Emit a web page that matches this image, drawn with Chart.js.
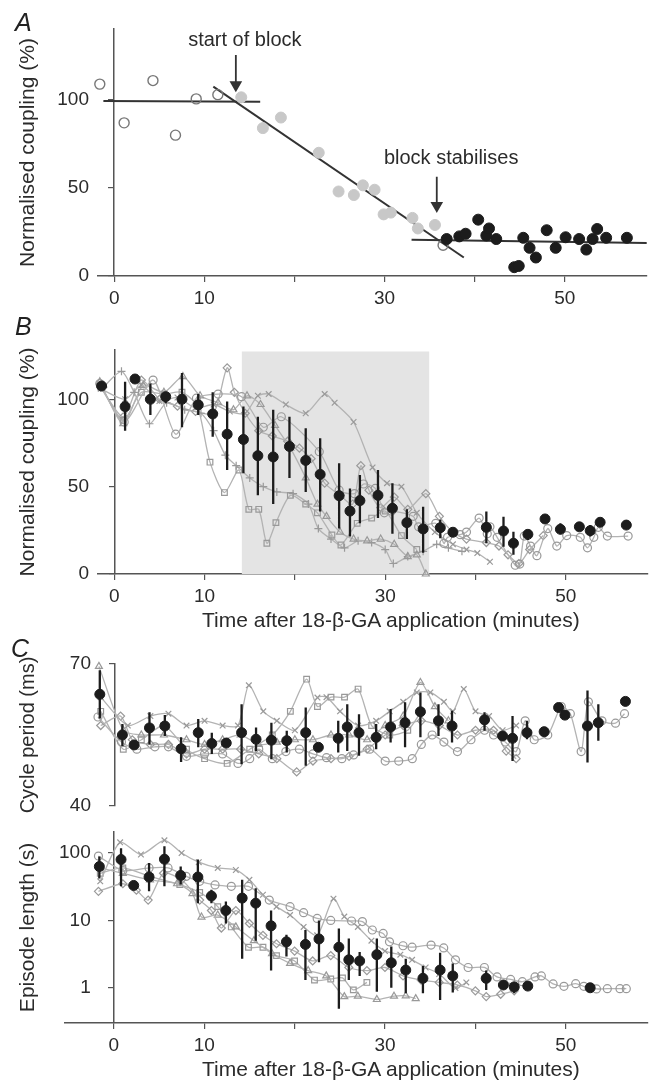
<!DOCTYPE html>
<html>
<head>
<meta charset="utf-8">
<script src="https://cdn.jsdelivr.net/npm/chart.js@4.4.1/dist/chart.umd.min.js"></script>
<style>
  body { margin: 0; background: #fff; }
  #page { position: relative; width: 654px; height: 1083px; overflow: hidden; background: #fff; }
  canvas { position: absolute; left: 0; }
  .letter { position: absolute; font: italic 25px "Liberation Sans", Arial, sans-serif; color: #222; line-height: 1; }
  .xtitle { position: absolute; left: 202px; font: 21px "Liberation Sans", Arial, sans-serif; color: #2b2b2b;
            line-height: 25px; white-space: nowrap; }
</style>
</head>
<body>
<div id="page">
  <canvas id="chartA" width="654" height="320" style="top:0"></canvas>
  <canvas id="chartB" width="654" height="320" style="top:320px"></canvas>
  <canvas id="chartC" width="654" height="185" style="top:640px"></canvas>
  <canvas id="chartD" width="654" height="258" style="top:825px"></canvas>
  <div class="letter" style="left:15px;top:10px">A</div>
  <div class="letter" style="left:15px;top:314px">B</div>
  <div class="letter" style="left:11px;top:636px">C</div>
  <div class="xtitle" id="titleB" style="top:607px"></div>
  <div class="xtitle" id="titleD" style="top:1056px"></div>
</div>
<script>
// shared time axis
const X_MAX = 59.1;
const xTicks = [0, 10, 20, 30, 40, 50];
const xLabels = [0, 10, 30, 50];
const xTitle = 'Time after 18-\u03B2-GA application (minutes)';

// ---- panel A: one experiment ----
const aOpen = [[-1.6, 109], [1.1, 87], [4.3, 111], [6.8, 80], [9.1, 100.6], [11.5, 103], [36.5, 17.5]];
const aBlock = [[14.1, 101.5], [16.5, 84], [18.5, 90], [22.7, 70], [24.9, 48], [26.6, 46], [27.6, 51.5],
  [28.9, 49], [29.9, 35], [30.7, 36], [33.1, 33], [33.7, 27], [35.6, 29]];
const aStable = [[36.9, 21], [38.3, 22.5], [39.0, 24], [40.4, 32], [41.3, 23], [41.6, 27], [42.4, 21],
  [44.4, 5], [44.9, 5.7], [45.4, 21.7], [46.1, 16], [46.8, 10.5], [48.0, 26], [49.0, 16], [50.1, 22],
  [51.6, 21], [52.4, 15], [53.1, 21], [53.6, 26.7], [54.6, 21.7], [56.9, 21.7]];
const fitBase = [[-1.2, 99.4], [16.2, 99]];
const fitBlock = [[11.0, 107.6], [38.8, 10.5]];
const fitStable = [[33.0, 20.6], [59.1, 18.7]];
const arrowStart = [[13.5, 125.6], [13.5, 108.5]];
const arrowStable = [[35.8, 56.4], [35.8, 40]];
const noteText = ['start of block', 'block stabilises'];
const noteT = [14.5, 37.4];
const noteV = [134, 66.5];

// ---- panel B: normalised coupling, all experiments ----
const bMeanT = [-1.4, 1.2, 2.3, 4.0, 5.7, 7.5, 9.3, 10.9, 12.5, 14.3, 15.9, 17.6, 19.4, 21.2, 22.8, 24.9, 26.1,
  27.2, 29.2, 30.8, 32.4, 34.2, 36.1, 37.5, 41.2, 43.1, 44.2, 45.8, 47.7, 49.4, 51.5, 52.7, 53.8, 56.7];
const bMeanV = [107.6, 95.8, 111.6, 100, 101.5, 100, 96.8, 91.6, 80, 77, 67.7, 67, 73, 65, 57, 44.8, 36,
  42, 45, 37.6, 29.4, 25.8, 26.5, 23.9, 26.7, 24.6, 17.6, 22.7, 31.5, 25.6, 27, 24.8, 29.6, 28];
const bMeanLo = [107.6, 82, 111.6, 91, 97.7, 84, 91, 78.6, 59.5, 57.6, 45, 40, 55, 47, 35.7, 26, 21.4,
  29, 32, 23, 20, 12.2, 20.4, 23.9, 17.6, 15.6, 11, 19.5, 31.5, 22.7, 27, 21.5, 29.6, 28];
const bMeanHi = [107.6, 110, 111.6, 109, 104, 115, 103, 104, 98.7, 95.8, 90, 94, 90, 83.4, 77.7, 63.4, 49,
  56.7, 59.5, 52, 37, 38.5, 31, 23.9, 35.7, 32.8, 24.2, 25, 31.5, 29, 27, 28, 29.6, 28];
const bBlockT = [14.1, 34.9];
const bBlockV = [127.3, 127.3];
const bSquare = [[-1.5, 107], [1.0, 88], [3.0, 104], [5.5, 103], [7.5, 104], [9.2, 96], [10.6, 64], [12.2, 46.6],
  [13.8, 59.5], [14.9, 37], [16.0, 37], [16.9, 17.6], [17.9, 29.4], [19.5, 45], [21.2, 40], [22.5, 35],
  [24.1, 22.3], [25.1, 16.6], [26.9, 29], [28.5, 32], [30.0, 36], [31.8, 22], [33.5, 14]];
const bTriangle = [[-1.6, 110], [1.0, 86], [3.2, 108], [5.5, 104], [7.6, 113], [9.5, 102], [11.5, 98], [13.2, 94],
  [14.7, 102], [16.2, 97], [17.8, 85], [19.5, 72], [21.2, 55], [22.5, 40], [23.5, 33], [25.0, 24], [26.5, 20],
  [28.0, 19], [29.5, 20], [31.0, 17], [32.5, 10], [33.5, 11], [34.5, 0]];
const bPlus = [[-1.2, 107], [0.8, 116], [2.2, 104], [3.9, 86], [5.8, 98], [7.8, 94], [9.6, 92], [11.0, 82],
  [12.3, 68], [13.5, 62], [15.0, 55], [16.5, 50], [18.0, 47], [19.8, 46], [21.5, 40], [22.6, 26], [24.0, 20],
  [25.5, 15], [27.0, 19], [28.5, 18], [30.0, 14], [30.9, 6], [32.5, 10], [34.2, 13], [35.7, 17], [37.0, 15], [38.5, 13]];
const bCross = [[-1.5, 106], [1.2, 100], [3.0, 108], [5.0, 99], [7.0, 101], [9.0, 95], [11.0, 97], [12.8, 93],
  [14.5, 92], [15.9, 102], [17.1, 103], [19.0, 97], [21.2, 92], [23.3, 103], [24.4, 98], [26.5, 87], [28.6, 61],
  [30.2, 52], [31.8, 50], [33.5, 35], [35.5, 24], [37.5, 17], [39.0, 14], [40.2, 12], [41.6, 7]];
const bDiamond = [[-1.5, 107], [1.0, 90], [3.0, 111], [5.0, 100], [7.0, 96], [9.0, 93], [11.0, 92], [12.5, 118],
  [13.3, 104], [14.5, 92], [16.0, 82], [17.5, 79], [19.2, 76], [20.5, 72], [21.8, 66], [23.3, 52], [25.0, 45],
  [26.4, 40], [27.3, 62], [28.2, 48], [29.5, 38], [31.0, 44], [32.5, 37], [34.5, 46], [36.0, 33], [37.5, 24],
  [39.0, 20], [41.2, 18], [42.6, 16], [43.6, 11], [44.8, 6], [46.0, 14], [47.5, 22]];

// ---- panel C (top): cycle period ----
const cMeanT = [-1.6, 0.9, 2.2, 3.9, 5.6, 7.4, 9.3, 10.8, 12.4, 14.1, 15.7, 17.4, 19.1, 21.2, 22.6, 24.8, 25.8,
  27.1, 29.0, 30.6, 32.2, 33.9, 35.9, 37.4, 41.0, 43.0, 44.1, 45.7, 47.6, 49.2, 49.9, 52.4, 53.6, 56.6];
const cMeanV = [63.6, 55, 52.9, 56.5, 56.9, 52.1, 55.5, 53.2, 53.3, 55.5, 54.1, 53.9, 53.8, 55.5, 52.4, 54.3, 56.7,
  55.5, 54.5, 56.7, 57.6, 59.9, 58, 56.9, 58.2, 54.8, 54.3, 55.5, 55.7, 60.8, 59.2, 56.9, 57.6, 62.1];
const cMeanLo = [58.5, 52.7, 52.9, 53, 54.8, 49.3, 52.4, 51, 53.3, 48.8, 51.6, 49.9, 51.3, 48.5, 52.4, 51.3, 51.6,
  50.6, 52, 53.4, 52.4, 54.5, 54.8, 53.4, 55.9, 54.8, 49.5, 54.1, 55.7, 60.2, 59.2, 49.2, 53.8, 62.1];
const cMeanHi = [68.7, 57.3, 52.9, 59.8, 59.2, 54.5, 58.4, 55.5, 53.3, 61.5, 56.6, 57.6, 55.9, 60.8, 52.4, 58, 61.5,
  59.4, 57.3, 60.5, 61.9, 64, 61.5, 60.1, 59.8, 54.8, 59, 58, 55.7, 61.4, 59.2, 64.4, 61.5, 62.1];
const cCircle = [[-1.8, 58.8], [0.8, 53.5], [2.5, 52], [4.5, 52.5], [6.0, 52.5], [8.0, 50.5], [10.0, 51], [12.0, 51],
  [13.7, 49], [15.0, 50], [16.0, 52], [17.5, 50], [19.0, 51.5], [20.5, 52], [22.0, 51], [23.5, 50.2], [25.2, 50],
  [26.5, 50.8], [28.3, 52], [30.0, 49.5], [31.5, 49.5], [33.0, 50], [34.0, 53], [35.2, 55], [36.5, 53.5],
  [38.0, 51.5], [39.5, 54], [41.0, 56], [42.0, 55], [43.3, 53.5], [44.5, 51.5], [45.5, 58], [46.5, 54], [48.0, 55],
  [49.5, 61], [50.5, 59.5], [51.7, 51.5], [52.5, 62], [54.0, 58], [55.5, 57.5], [56.5, 59.5]];
const cCross = [[-1.5, 63], [1.5, 57], [4.0, 59], [6.0, 59.5], [8.0, 57], [10.0, 58], [12.0, 57], [13.7, 57],
  [14.9, 65.5], [16.5, 60], [18.0, 58], [20.0, 56], [22.5, 62.9], [23.5, 63], [25.0, 60], [27.0, 57], [29.0, 58],
  [30.5, 60], [32.0, 62], [33.5, 64], [35.0, 64], [36.5, 62], [37.5, 60], [38.7, 64.7], [40.0, 60], [41.5, 59],
  [43.0, 56], [44.5, 57]];
const cSquare = [[-1.5, 60], [1.0, 52], [3.0, 54], [5.5, 57], [8.0, 52], [10.0, 50], [12.5, 49], [15.0, 52],
  [17.5, 55], [19.5, 60], [21.3, 66.8], [22.5, 61], [24.0, 63], [25.5, 63], [27.0, 64.7], [28.5, 57], [30.5, 55],
  [32.5, 56], [34.0, 60]];
const cTriangle = [[-1.7, 69.5], [1.0, 56], [3.0, 55], [5.5, 55], [8.0, 54], [10.0, 53], [12.0, 54], [14.0, 55],
  [16.0, 53], [18.0, 53.5], [20.0, 54], [22.0, 54], [24.0, 55], [26.0, 55], [28.0, 54], [30.0, 57], [32.0, 59],
  [33.9, 66.1], [35.5, 61], [37.0, 58]];
const cDiamond = [[-1.5, 57], [0.7, 59], [2.0, 54], [4.0, 53], [6.0, 53], [8.0, 51], [10.0, 52], [12.0, 52],
  [14.0, 52], [16.0, 51], [18.0, 50], [20.2, 47.2], [22.0, 49.5], [24.0, 50], [26.0, 50.5], [28.0, 52], [30.0, 55],
  [32.0, 57], [34.0, 58], [36.0, 57], [38.0, 55], [40.0, 56], [42.0, 56], [43.4, 51.6], [44.5, 50]];

// ---- panel C (bottom): episode length, log scale ----
const dMeanT = [-1.6, 0.8, 2.2, 3.9, 5.6, 7.4, 9.3, 10.8, 12.4, 14.2, 15.7, 17.4, 19.1, 21.2, 22.7, 24.9, 26.0,
  27.2, 29.1, 30.7, 32.3, 34.2, 36.1, 37.5, 41.2, 43.1, 44.3, 45.8, 52.7];
const dMeanV = [63, 80, 33, 44, 81, 46.5, 44, 23, 14, 21.4, 18, 8.3, 4.8, 4.4, 5.3, 4, 2.6,
  2.5, 3.1, 2.35, 1.83, 1.38, 1.83, 1.5, 1.38, 1.1, 1.03, 1.06, 1.0];
const dMeanLo = [42, 32, 33, 27, 32, 34, 18, 18, 9, 2.7, 5, 1.8, 2.9, 1.3, 2.4, 0.49, 1.3,
  1.5, 0.87, 1.0, 0.83, 0.83, 0.66, 0.85, 0.93, 1.1, 0.83, 0.95, 0.95];
const dMeanHi = [89, 118, 33, 71, 126, 63, 80, 28.5, 19, 40, 30, 14, 6.1, 7.2, 10, 7.6, 5.4,
  3.4, 5.4, 4.1, 2.7, 2.1, 3.3, 2.3, 1.8, 1.1, 1.2, 1.2, 1.05];
const dCircle = [[-1.7, 90], [1.0, 55], [3.9, 60], [6.0, 60], [8.0, 45], [9.5, 38], [11.2, 33.6], [13.0, 32],
  [14.9, 32], [17.2, 20], [19.5, 16], [21.0, 13], [22.5, 10.7], [24.0, 10], [26.3, 9.8], [27.5, 9.6], [28.6, 7.2],
  [29.8, 6.4], [30.5, 4.8], [32.0, 4.2], [33.0, 4.0], [35.1, 4.3], [36.5, 3.9], [37.8, 2.6], [39.2, 2.0],
  [41.0, 2.0], [42.4, 1.45], [43.9, 1.33], [45.2, 1.23], [46.6, 1.45], [47.3, 1.5], [48.6, 1.14], [49.8, 1.05],
  [51.1, 1.15], [52.0, 1.05], [53.4, 0.96], [54.6, 0.97], [56.0, 0.97], [56.7, 0.97]];
const dCross = [[-1.5, 38], [0.7, 144], [3.0, 95], [5.6, 154], [7.5, 100], [9.4, 73], [11.5, 60], [13.5, 56],
  [15.0, 40], [16.5, 24], [18.0, 16], [19.5, 12], [21.0, 8], [22.5, 6], [24.3, 21], [25.5, 11.4], [27.0, 8],
  [28.5, 5], [30.0, 3.5], [31.7, 3.1], [33.0, 2.6], [34.5, 2.0], [36.0, 1.6], [37.8, 0.99], [39.0, 1.2]];
const dDiamond = [[-1.7, 27], [1.0, 35], [2.5, 28], [3.8, 20], [5.5, 50], [7.5, 40], [9.5, 20], [10.8, 14],
  [11.9, 7.7], [13.5, 14], [15.0, 9], [16.5, 6], [18.0, 4.5], [20.0, 3.5], [22.0, 2.5], [24.0, 3], [26.0, 2],
  [28.0, 1.8], [30.0, 2], [32.0, 1.5], [34.0, 1.3], [36.0, 1.2], [38.0, 1.1], [40.0, 0.9], [41.2, 0.74],
  [42.8, 0.8], [44.3, 0.9]];
const dTriangle = [[-1.5, 60], [1.0, 50], [4.0, 40], [7.0, 35], [8.7, 25], [9.7, 11.2], [11.5, 12], [13.5, 8],
  [15.5, 5], [17.5, 3.2], [19.5, 2.3], [21.5, 1.8], [23.5, 1.5], [25.5, 0.74], [27.0, 0.75], [29.1, 0.67],
  [31.0, 0.75], [32.3, 0.76], [33.4, 0.69]];
const dSquare = [[-1.5, 50], [1.0, 60], [4.0, 45], [7.3, 34], [9.5, 26], [11.5, 16], [13.0, 8], [14.9, 4],
  [16.5, 4], [18.0, 3], [20.0, 2.5], [22.2, 1.3], [24.0, 1.35], [25.3, 1.4], [26.5, 0.93], [28.0, 1.2]];

// ---- styling ----
const FONT = '"Liberation Sans", Arial, sans-serif';
const AXIS = '#555';
const TXT = '#2b2b2b';
const DOT = '#1c1c1c';
const TRACE = '#b3b3b3';
const MARK = '#999';

document.getElementById('titleB').textContent = xTitle;
document.getElementById('titleD').textContent = xTitle;

function xy(ts, vs) { return ts.map((t, i) => ({ x: t, y: vs[i] })); }
function fromPairs(list) { return list.map(p => ({ x: p[0], y: p[1] })); }

function common(ds) {
  return Object.assign({ xAxisID: 'x', yAxisID: 'y', clip: false }, ds);
}

function meanDots(ts, vs) {
  return common({ data: xy(ts, vs), showLine: false, pointRadius: 5, pointBackgroundColor: DOT,
    pointBorderColor: DOT, pointBorderWidth: 1, order: 0 });
}

function errorBars(ts, lo, hi) {
  const data = [];
  ts.forEach((t, i) => { data.push({ x: t, y: lo[i] }, { x: t, y: hi[i] }, { x: t, y: null }); });
  return common({ data, borderColor: DOT, borderWidth: 2.3, pointRadius: 0, spanGaps: false, order: 1 });
}

function trace(list, style) {
  return common({ data: fromPairs(list), borderColor: TRACE, borderWidth: 1.3, tension: 0.25,
    pointStyle: style, pointRadius: 4, pointBorderColor: MARK, pointBorderWidth: 1.2,
    pointBackgroundColor: 'rgba(255,255,255,0)', order: 2 });
}

function xAxis(cfg) {
  return {
    type: 'linear', position: 'bottom', min: cfg.min, max: X_MAX, display: cfg.display !== false,
    border: { color: AXIS, width: 1.5 },
    grid: { drawOnChartArea: false, color: AXIS, lineWidth: 1.2, tickLength: 6 },
    ticks: { color: TXT, font: { family: FONT, size: 19 }, padding: 5, maxRotation: 0, autoSkip: false,
      callback: v => (xLabels.includes(v) ? String(v) : '') },
    afterBuildTicks: s => { s.ticks = xTicks.map(v => ({ value: v })); },
    afterFit: s => { s.height = cfg.height; }
  };
}

// 'y' is the drawn axis line at t = 0, 'yl' carries the labels and the title on the left
function yAxes(cfg) {
  const setTicks = s => { s.ticks = cfg.ticks.map(v => ({ value: v })); };
  return {
    y: {
      type: cfg.type, position: { x: 0 }, min: cfg.min, max: cfg.max,
      border: { color: AXIS, width: 1.5 },
      grid: { drawOnChartArea: false, color: AXIS, lineWidth: 1.2, tickLength: 5 },
      ticks: { display: false },
      afterBuildTicks: setTicks
    },
    yl: {
      type: cfg.type, position: 'left', min: cfg.min, max: cfg.max,
      border: { display: false },
      grid: { display: false, drawTicks: false },
      ticks: { color: TXT, font: { family: FONT, size: 19 }, padding: cfg.labelPad, mirror: !!cfg.mirror,
        crossAlign: cfg.mirror ? 'far' : 'near', callback: v => String(v) },
      title: { display: true, text: cfg.title, color: TXT, font: { family: FONT, size: cfg.titleSize || 21 },
        padding: { top: 16, bottom: 0 } },
      afterBuildTicks: setTicks,
      afterFit: s => { s.width = cfg.width; }
    }
  };
}

function makeChart(id, datasets, scales, padding, plugins) {
  return new Chart(document.getElementById(id), {
    type: 'line',
    data: { datasets },
    options: {
      responsive: false, animation: false, events: [],
      layout: { padding },
      plugins: { legend: { display: false }, tooltip: { enabled: false } },
      scales
    },
    plugins: plugins || []
  });
}

// text notes in panel A, placed at data coordinates
const notesPlugin = {
  id: 'notes',
  afterDatasetsDraw(chart) {
    const { ctx, scales: { x, y } } = chart;
    ctx.save();
    ctx.fillStyle = TXT;
    ctx.font = '20px ' + FONT;
    ctx.textAlign = 'center';
    ctx.textBaseline = 'middle';
    noteText.forEach((s, i) => ctx.fillText(s, x.getPixelForValue(noteT[i]), y.getPixelForValue(noteV[i])));
    ctx.restore();
  }
};

function arrow(list) {
  return common({ data: fromPairs(list), borderColor: '#333', borderWidth: 1.8, pointRadius: [0, 5.5],
    pointStyle: 'triangle', pointRotation: 180, pointBackgroundColor: '#333', pointBorderColor: '#333', order: 1 });
}

function fitLine(list) {
  return common({ data: fromPairs(list), borderColor: '#333', borderWidth: 2, pointRadius: 0, order: 1 });
}

// ---- panel A ----
makeChart('chartA', [
  common({ data: fromPairs(aStable), showLine: false, pointRadius: 5.5, pointBackgroundColor: DOT, pointBorderColor: DOT, order: 0 }),
  common({ data: fromPairs(aBlock), showLine: false, pointRadius: 5.5, pointBackgroundColor: '#c8c8c8', pointBorderColor: '#c8c8c8', order: 0 }),
  common({ data: fromPairs(aOpen), showLine: false, pointRadius: 5, pointBackgroundColor: 'rgba(255,255,255,0)', pointBorderColor: '#777', pointBorderWidth: 1.4, order: 0 }),
  fitLine(fitBase), fitLine(fitBlock), fitLine(fitStable),
  arrow(arrowStart), arrow(arrowStable)
], Object.assign({ x: xAxis({ min: -1.8, height: 44 }) },
  yAxes({ type: 'linear', min: 0, max: 140.3, ticks: [0, 50, 100], title: 'Normalised coupling (%)', width: 98, labelPad: 9 })),
{ top: 29, right: 3, left: 0, bottom: 0 }, [notesPlugin]);

// ---- panel B ----
const bTrace = [...aOpen, ...aBlock, ...aStable].sort((p, q) => p[0] - q[0]);
makeChart('chartB', [
  meanDots(bMeanT, bMeanV),
  errorBars(bMeanT, bMeanLo, bMeanHi),
  trace(bTrace, 'circle'),
  trace(bSquare, 'rect'),
  trace(bTriangle, 'triangle'),
  trace(bPlus, 'cross'),
  trace(bCross, 'crossRot'),
  trace(bDiamond, 'rectRot'),
  common({ data: xy(bBlockT, bBlockV), fill: 'origin', backgroundColor: '#e4e4e4', borderWidth: 0, pointRadius: 0, order: 3 })
], Object.assign({ x: xAxis({ min: -1.8, height: 66 }) },
  yAxes({ type: 'linear', min: 0, max: 128.2, ticks: [0, 50, 100], title: 'Normalised coupling (%)', width: 98, labelPad: 9 })),
{ top: 30, right: 3, left: 0, bottom: 0 });

// ---- panel C top ----
makeChart('chartC', [
  meanDots(cMeanT, cMeanV),
  errorBars(cMeanT, cMeanLo, cMeanHi),
  trace(cCircle, 'circle'),
  trace(cCross, 'crossRot'),
  trace(cSquare, 'rect'),
  trace(cTriangle, 'triangle'),
  trace(cDiamond, 'rectRot')
], Object.assign({ x: xAxis({ min: -1.8, height: 0, display: false }) },
  yAxes({ type: 'linear', min: 40, max: 70, ticks: [40, 70], title: 'Cycle period (ms)', titleSize: 20, width: 98, labelPad: 7 })),
{ top: 24, right: 3, left: 0, bottom: 19 });

// ---- panel C bottom ----
makeChart('chartD', [
  meanDots(dMeanT, dMeanV),
  errorBars(dMeanT, dMeanLo, dMeanHi),
  trace(dCircle, 'circle'),
  trace(dCross, 'crossRot'),
  trace(dDiamond, 'rectRot'),
  trace(dTriangle, 'triangle'),
  trace(dSquare, 'rect')
], Object.assign({ x: xAxis({ min: -5.4, height: 60 }) },
  yAxes({ type: 'logarithmic', min: 0.3, max: 205, ticks: [1, 10, 100], title: 'Episode length (s)', width: 65, labelPad: -6, mirror: true })),
{ top: 7, right: 3, left: 0, bottom: 0 });
</script>
</body>
</html>
